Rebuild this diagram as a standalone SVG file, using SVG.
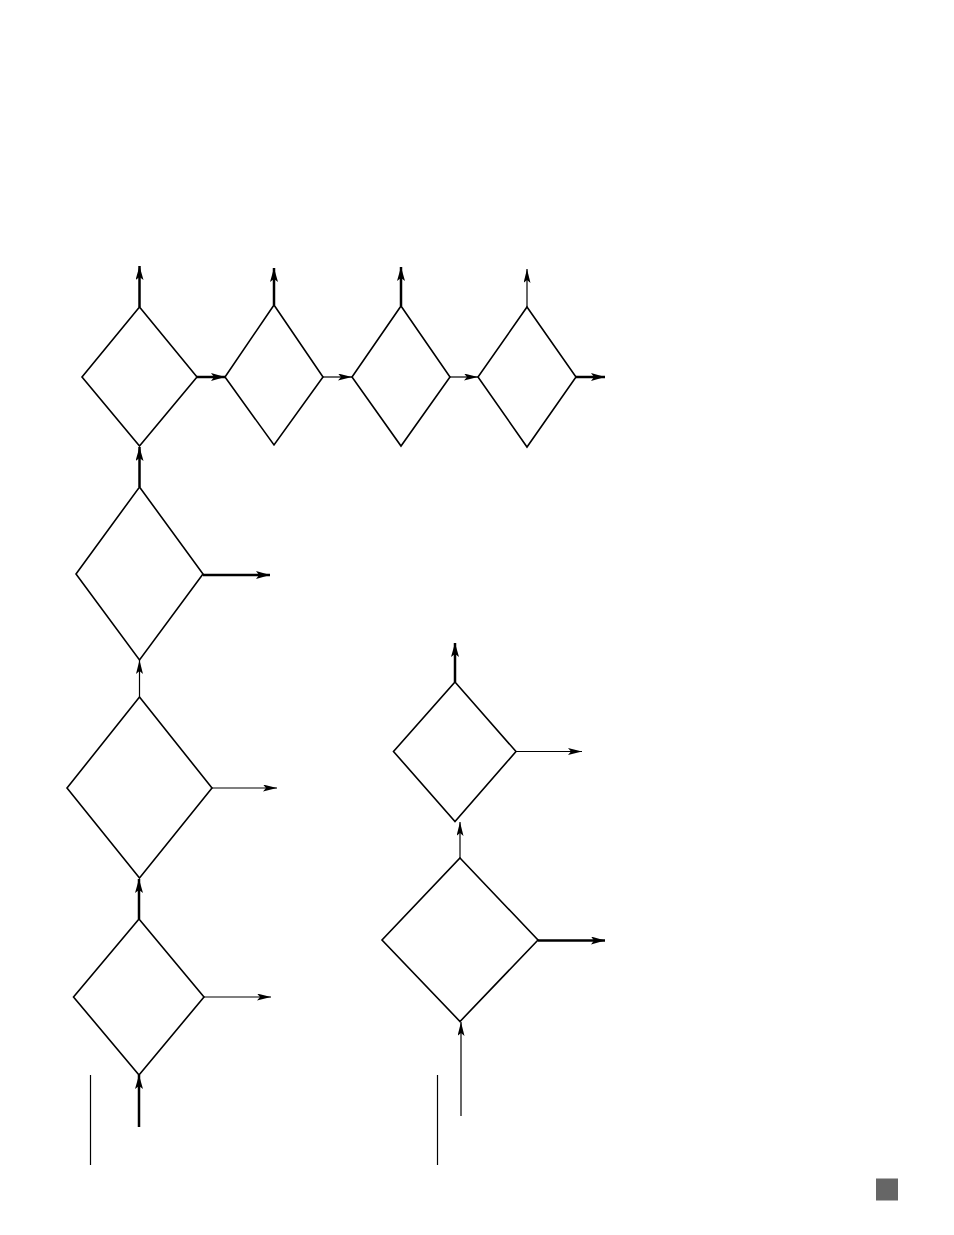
<svg xmlns="http://www.w3.org/2000/svg" width="954" height="1235" viewBox="0 0 954 1235">
<style>
.node{fill:#fff;stroke:#000;stroke-width:1.6;stroke-linejoin:miter}
.thick{stroke:#000;stroke-width:2.5;fill:none}
.thin{stroke:#000;stroke-width:1.2;fill:none}
</style>
<defs>
<marker id="ah" markerUnits="userSpaceOnUse" viewBox="0 0 14 8" refX="14" refY="4" markerWidth="14" markerHeight="8" orient="auto">
<path d="M0,0 L14,4 L0,8 L3,4 z" fill="#000"/>
</marker>
<marker id="ahs" markerUnits="userSpaceOnUse" viewBox="0 0 14 7" refX="14" refY="3.5" markerWidth="14" markerHeight="7" orient="auto">
<path d="M0,0 L14,3.5 L0,7 L3,3.5 z" fill="#000"/>
</marker>
</defs>
<rect width="954" height="1235" fill="#fff"/>
<g id="connectors">
<line class="thick" x1="139.5" y1="307" x2="139.5" y2="266" marker-end="url(#ah)"/>
<line class="thick" x1="274" y1="305" x2="274" y2="268" marker-end="url(#ah)"/>
<line class="thick" x1="401" y1="306" x2="401" y2="267" marker-end="url(#ah)"/>
<line class="thin" x1="527" y1="307" x2="527" y2="269" marker-end="url(#ahs)"/>
<line class="thick" x1="197" y1="377" x2="225" y2="377" marker-end="url(#ah)"/>
<line class="thin" x1="323" y1="377" x2="352" y2="377" marker-end="url(#ahs)"/>
<line class="thin" x1="450" y1="377" x2="478" y2="377" marker-end="url(#ahs)"/>
<line class="thick" x1="576" y1="377" x2="605" y2="377" marker-end="url(#ah)"/>
<line class="thick" x1="139.5" y1="487" x2="139.5" y2="447" marker-end="url(#ah)"/>
<line class="thick" x1="203" y1="575" x2="270" y2="575" marker-end="url(#ah)"/>
<line class="thin" x1="139.5" y1="697" x2="139.5" y2="660" marker-end="url(#ahs)"/>
<line class="thin" x1="212" y1="788" x2="277" y2="788" marker-end="url(#ahs)"/>
<line class="thick" x1="139" y1="919" x2="139" y2="879" marker-end="url(#ah)"/>
<line class="thin" x1="204" y1="997" x2="271" y2="997" marker-end="url(#ahs)"/>
<line class="thick" x1="139" y1="1127" x2="139" y2="1075" marker-end="url(#ah)"/>
<line class="thin" x1="90.5" y1="1075" x2="90.5" y2="1165"/>
<line class="thick" x1="455" y1="682" x2="455" y2="643" marker-end="url(#ah)"/>
<line class="thin" x1="516" y1="751.5" x2="582" y2="751.5" marker-end="url(#ahs)"/>
<line class="thin" x1="460" y1="858" x2="460" y2="822" marker-end="url(#ahs)"/>
<line class="thick" x1="538" y1="940.5" x2="605" y2="940.5" marker-end="url(#ah)"/>
<line class="thin" x1="461" y1="1116" x2="461" y2="1022" marker-end="url(#ahs)"/>
<line class="thin" x1="437.5" y1="1075" x2="437.5" y2="1165"/>
</g>
<g id="d1"><polygon class="node" points="139.5,307 197,377 139.5,446 82,377"/></g>
<g id="d2"><polygon class="node" points="274,305 323,377 274,445 225,377"/></g>
<g id="d3"><polygon class="node" points="401,306 450,377 401,446 352,377"/></g>
<g id="d4"><polygon class="node" points="527,307 576,377 527,447 478,377"/></g>
<g id="d5"><polygon class="node" points="139.5,487 203,574 139.5,660 76,574"/></g>
<g id="d6"><polygon class="node" points="139.5,697 212,788 139.5,878 67,788"/></g>
<g id="d7"><polygon class="node" points="139,919 204,997 139,1075 73.5,997"/></g>
<g id="d8"><polygon class="node" points="455,682 516,751.5 455,821.5 393.5,751.5"/></g>
<g id="d9"><polygon class="node" points="460,858 538,940 460,1021.5 382,940"/></g>
<g id="square"><rect x="876" y="1178.5" width="22" height="22" fill="#666"/></g>
</svg>
